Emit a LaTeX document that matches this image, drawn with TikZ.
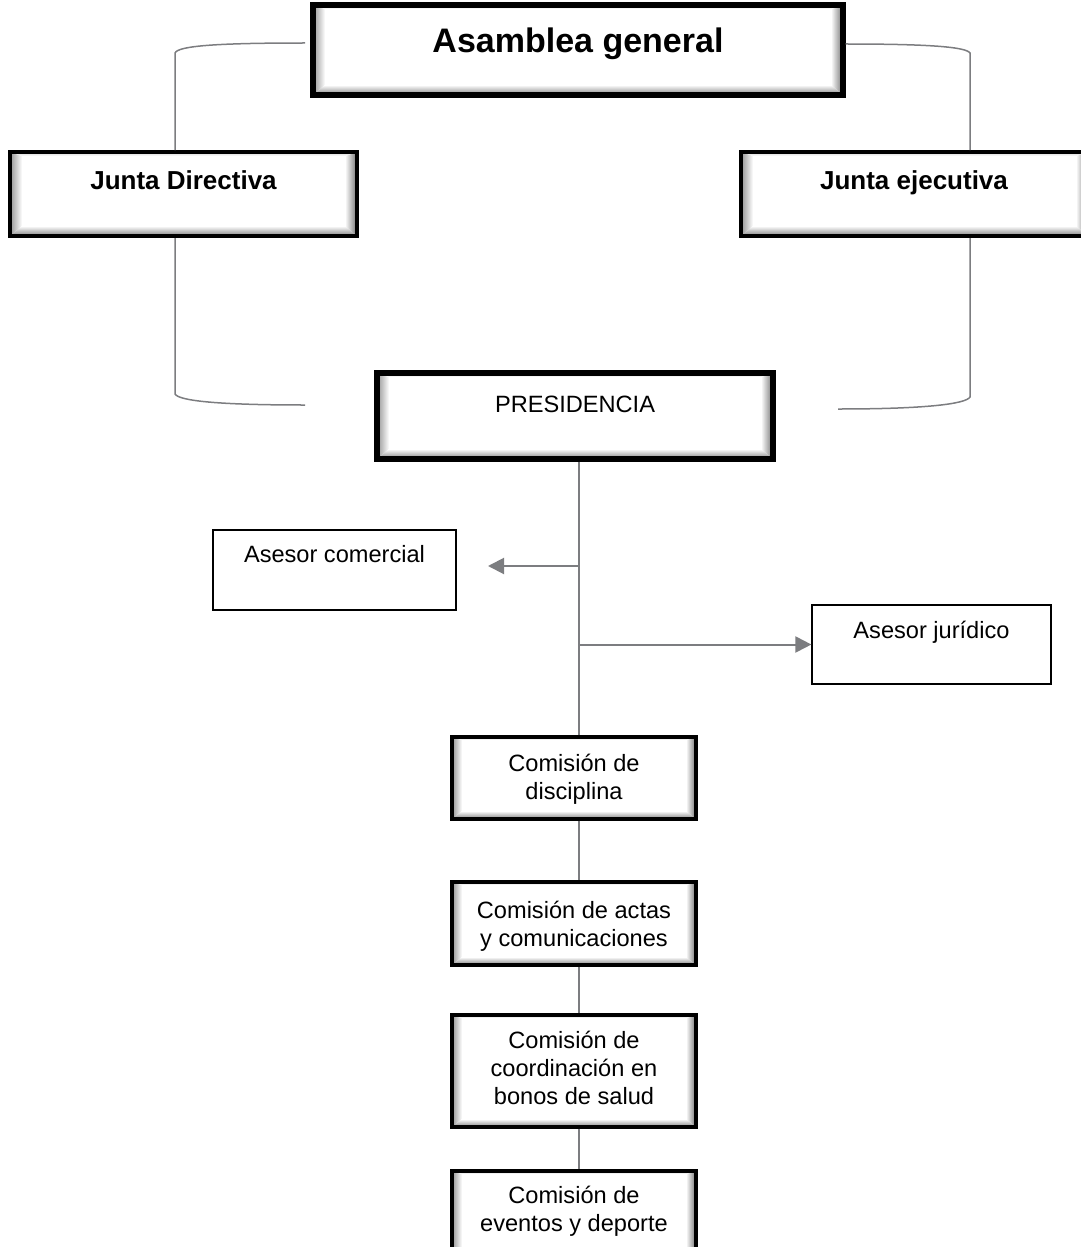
\documentclass[tikz,border=0pt]{standalone}
\usepackage{fontspec}
\setmainfont{Liberation Sans}
\usetikzlibrary{calc,fit,arrows.meta}

\definecolor{linkgray}{RGB}{124,125,128}

% Bevelled inner edges of a box: depths of the left, right, top and bottom bands
\newcommand\bevelfill[4]{%
  \coordinate (bvA) at (path picture bounding box.south west);
  \coordinate (bvB) at (path picture bounding box.north east);
  \coordinate (bvC) at ($(bvA)+(#1,#4)$);
  \coordinate (bvD) at ($(bvB)+(-#2,-#3)$);
  \shade[left color=black!42,right color=white]
    (bvA) -- (bvC) -- (bvC|-bvD) -- (bvA|-bvB) -- cycle;
  \shade[left color=white,right color=black!55]
    (bvB) -- (bvD) -- (bvD|-bvC) -- (bvB|-bvA) -- cycle;
  \shade[top color=black!18,bottom color=white]
    (bvA|-bvB) -- (bvC|-bvD) -- (bvD) -- (bvB) -- cycle;
  \shade[top color=white,bottom color=black!50]
    (bvA) -- (bvC) -- (bvD|-bvC) -- (bvB|-bvA) -- cycle;
}

\tikzset{
  bevel/.style n args={4}{path picture={\bevelfill{#1}{#2}{#3}{#4}}},
  mainbox/.style={draw=black, line width=2.7pt, fill=white, inner sep=0pt,
    bevel={6pt}{6pt}{2pt}{5pt}},
  juntabox/.style={draw=black, line width=2pt, fill=white, inner sep=0pt,
    bevel={6pt}{6pt}{2pt}{5pt}},
  combox/.style={draw=black, line width=1.6pt, fill=white, inner sep=0pt,
    bevel={5pt}{5pt}{1.5pt}{4pt}},
  plainbox/.style={draw=black, line width=0.6pt, fill=white, inner sep=0pt},
  bigtitle/.style={font=\bfseries\fontsize{17}{20}\selectfont, inner sep=0pt, anchor=base},
  jtitle/.style={font=\bfseries\fontsize{13}{15.6}\selectfont, inner sep=0pt, anchor=base},
  plaintext/.style={font=\fontsize{11.8}{13.8}\selectfont, inner sep=0pt, anchor=base},
  comtext/.style={font=\fontsize{11.8}{13.8}\selectfont, inner sep=0pt, align=center},
  bracket/.style={draw=linkgray, line width=0.75pt},
  spine/.style={draw=linkgray, line width=1pt},
  tip/.style={-{Triangle[length=8pt,width=8pt]}},
}

\begin{document}
\begin{tikzpicture}[x=0.5pt, y=-0.5pt]
\useasboundingbox (0,0) rectangle (1081,1247);
\clip (0,0) rectangle (1081,1247);

% boxes
\node[mainbox, fit={(313,5) (843,95)}] (ag) {};
\node[juntabox, fit={(10,152) (357,236)}] (jd) {};
\node[juntabox, fit={(741,152) (1088,236)}] (je) {};
\node[mainbox, fit={(377,373) (773,459)}] (pres) {};
\node[plainbox, fit={(213,530) (456,610)}] (ac) {};
\node[plainbox, fit={(812,605) (1051,684)}] (aj) {};
\node[combox, fit={(452,737) (696,819)}] (c1) {};
\node[combox, fit={(452,882) (696,965)}] (c2) {};
\node[combox, fit={(452,1015) (696,1127)}] (c3) {};
\node[combox, fit={(452,1171) (696,1262)}] (c4) {};

% texts
\node[bigtitle] (ag-t) at (578,53) {Asamblea general};
\node[jtitle] (jd-t) at (183.5,189) {Junta Directiva};
\node[jtitle] (je-t) at (914,189) {Junta ejecutiva};
\node[plaintext] (pres-t) at (575,412) {PRESIDENCIA};
\node[plaintext] (ac-t) at (334.5,562) {Asesor comercial};
\node[plaintext] (aj-t) at (931.5,638) {Asesor jurídico};
\node[comtext] (c1-t) at (574,780) {\strut Comisión de\\\strut disciplina};
\node[comtext] (c2-t) at (574,927) {\strut Comisión de actas\\\strut y comunicaciones};
\node[comtext] (c3-t) at (574,1071) {\strut Comisión de\\\strut coordinación en\\\strut bonos de salud};
\node[comtext] (c4-t) at (574,1212) {\strut Comisión de\\\strut eventos y deporte};

% reference points of the connectors
\coordinate (lx) at (175,0);
\coordinate (rx) at (970,0);
\coordinate (sp) at (579,0);
\coordinate (ltop) at (305,43);
\coordinate (lbot) at (305,405);
\coordinate (rbot) at (838,409);
\coordinate (b1) at (579,566);
\coordinate (actip) at (488,566);

% side brackets
\draw[bracket] (ltop) .. controls (215,43) and (178,46) .. (175,53) -- (jd.north -| lx);
\draw[bracket] (jd.south -| lx) -- (175,394) .. controls (179,401) and (220,405) .. (lbot);
\draw[bracket] ([yshift=3pt]ag.east) .. controls (930,44) and (966,47) .. (970,53) -- (je.north -| rx);
\draw[bracket] (je.south -| rx) -- (970,397) .. controls (966,404) and (925,409) .. (rbot);

% central line and branches
\draw[spine] (pres.south -| sp) -- (c1.north -| sp);
\draw[spine] (c1.south -| sp) -- (c2.north -| sp);
\draw[spine] (c2.south -| sp) -- (c3.north -| sp);
\draw[spine] (c3.south -| sp) -- (c4.north -| sp);
\draw[spine, tip] (b1) -- (actip);
\draw[spine, tip] (sp |- aj.west) -- (aj.west);
\end{tikzpicture}
\end{document}
